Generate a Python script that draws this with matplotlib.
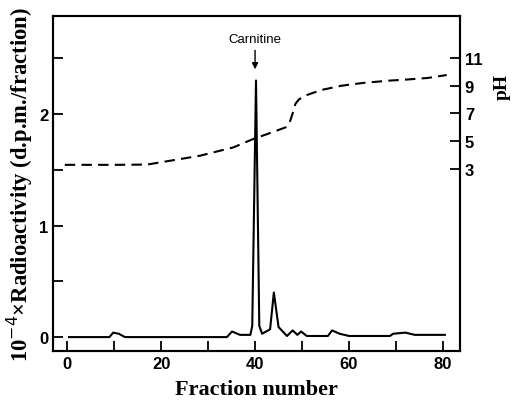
import matplotlib
matplotlib.use('Agg')
import matplotlib.pyplot as plt
from matplotlib.ticker import MultipleLocator, FixedLocator

# Radioactivity profile (10^-4 x d.p.m./fraction)
frac = [0.4, 9.0, 9.8, 11.0, 12.3, 34.0, 35.1, 36.8, 39.0, 39.4, 40.2, 40.9,
        41.5, 43.2, 44.0, 45.0, 46.8, 48.0, 49.0, 49.8, 51.0, 55.5, 56.4, 58.0,
        60.0, 68.7, 69.4, 72.0, 74.0, 80.4]
activity = [0.0, 0.0, 0.04, 0.03, 0.0, 0.0, 0.05, 0.02, 0.02, 0.1, 2.3, 0.1,
            0.03, 0.07, 0.40, 0.09, 0.01, 0.06, 0.02, 0.05, 0.01, 0.01, 0.06, 0.03,
            0.01, 0.01, 0.03, 0.04, 0.02, 0.02]

# pH gradient
ph_frac = [-0.5, 5, 10, 17, 22, 28.3, 35.4, 39.6, 43.6, 46.5, 47.3, 48.0, 48.6,
           49.3, 50.6, 54.2, 58.4, 63.0, 68.3, 72.5, 76.8, 80.8]
ph = [3.3, 3.3, 3.3, 3.32, 3.6, 3.96, 4.56, 5.16, 5.64, 6.0, 6.3, 7.0, 7.7,
      8.0, 8.28, 8.7, 9.0, 9.2, 9.36, 9.45, 9.56, 9.77]

serif = 'Liberation Serif'
sans = 'Liberation Sans'

fig = plt.figure(figsize=(5.15, 4.02), dpi=100)
ax = fig.add_axes([0.103, 0.124, 0.790, 0.834])
ax.plot(frac, activity, color='black', lw=1.5)
ax.set_xlim(-3, 83.6)
ax.set_ylim(-0.126, 2.879)

ax.xaxis.set_major_locator(MultipleLocator(20))
ax.xaxis.set_minor_locator(MultipleLocator(10))
ax.yaxis.set_major_locator(FixedLocator([0, 1, 2]))
ax.yaxis.set_minor_locator(FixedLocator([0.5, 1.5, 2.5]))
ax.tick_params(which='both', direction='in', length=7, width=1.3,
               top=False, right=False, labelsize=12)
for lab in ax.get_xticklabels() + ax.get_yticklabels():
    lab.set_fontfamily(sans)
    lab.set_fontweight('bold')
for sp in ax.spines.values():
    sp.set_linewidth(1.5)

ax.set_xlabel('Fraction number', fontfamily=serif, fontweight='bold',
              fontsize=16, labelpad=6)
ax.set_ylabel('10$^{-4}$\u00d7Radioactivity (d.p.m./fraction)', fontfamily=serif,
              fontweight='bold', fontsize=16.3, labelpad=3)

ax.annotate('Carnitine', xy=(40.0, 2.40), xytext=(40.0, 2.62),
            ha='center', va='bottom', fontfamily=sans, fontsize=9.5,
            arrowprops=dict(arrowstyle='-|>', color='black', lw=1.0,
                            mutation_scale=9, shrinkA=2, shrinkB=0))

ax2 = ax.twinx()
ax2.plot(ph_frac, ph, color='black', lw=1.5, dashes=(5, 3))
ax2.set_ylim(-10.12, 14.03)
ax2.set_yticks([3, 5, 7, 9, 11])
ax2.set_yticklabels(['3', '5', '7', '9', '11'])
ax2.tick_params(direction='in', length=7, width=1.3, labelsize=12)
for lab in ax2.get_yticklabels():
    lab.set_fontfamily(sans)
    lab.set_fontweight('bold')
ax2.set_ylabel('pH', fontfamily=serif, fontweight='bold', fontsize=14,
               rotation=90)
ax2.yaxis.set_label_coords(1.084, 0.79)
for sp in ax2.spines.values():
    sp.set_linewidth(1.5)

fig.savefig('out.png', dpi=100)
